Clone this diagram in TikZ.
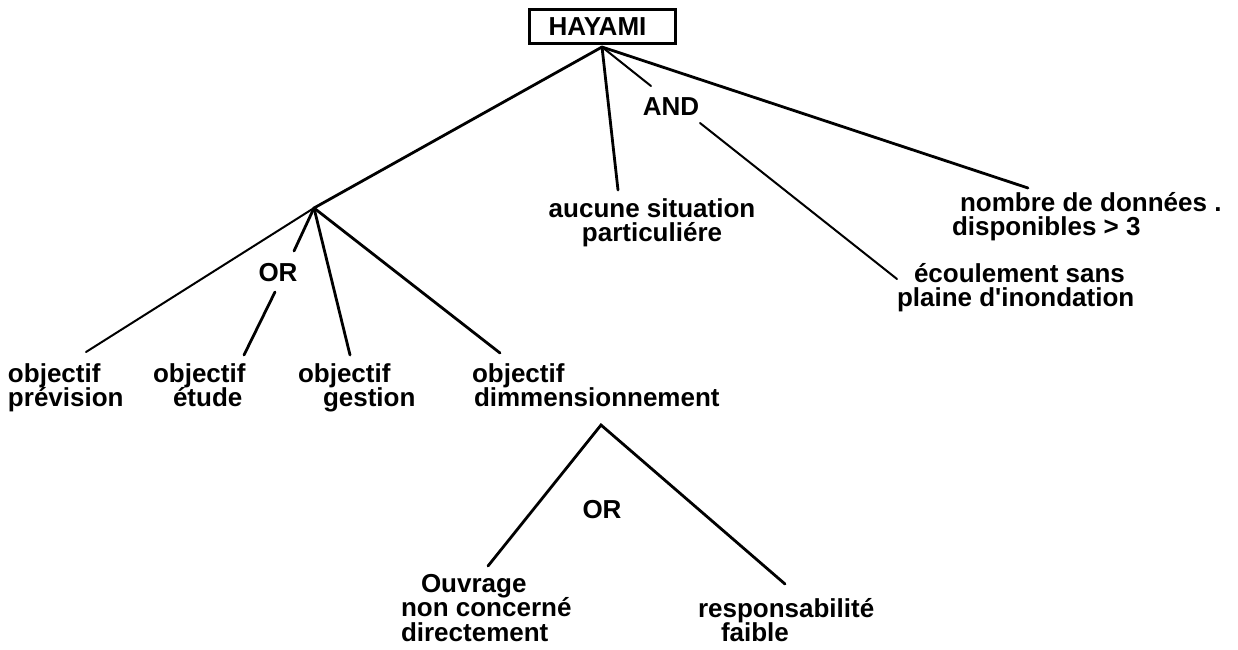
\documentclass[tikz,border=0pt]{standalone}
\usepackage{fontspec}
\newfontfamily\labfam{Liberation Sans}
\newcommand\lblfont{\labfam\bfseries\fontsize{26}{24.5}\selectfont\lineskiplimit=-50pt\relax}
\newcommand\lstrut{\rule{0pt}{22pt}}
\begin{document}
\begin{tikzpicture}[x=1pt,y=-1pt,
  lbl/.style={inner sep=0pt, outer sep=0pt, font=\lblfont, anchor=north west, align=left},
  lblc/.style={lbl, anchor=north, align=center},
  gate/.style={inner sep=0pt, outer sep=0pt, font=\lblfont, anchor=base},
  thickln/.style={line width=2.8pt, line cap=round, line join=miter},
  thinln/.style={line width=2pt, line cap=round}]
\useasboundingbox (0,0) rectangle (1238,649);

% root box
\node[draw, line width=3.5pt, minimum width=146pt, minimum height=34pt, inner sep=0pt,
      font=\labfam\bfseries\fontsize{26}{26}\selectfont] (hay) at (602.5,26.5) {HAYAMI\hspace*{10pt}};

% junction points and connector ends
\coordinate (root) at (602,47);
\coordinate (orA) at (314,208);
\coordinate (andIn) at (651,86);
\coordinate (andOut) at (700,123);
\coordinate (aucTop) at (618,190);
\coordinate (nomTop) at (1028,188);
\coordinate (ecoTop) at (897,279);
\coordinate (orUin) at (294,251);
\coordinate (orUout) at (275,292);
\coordinate (prevTop) at (86,352);
\coordinate (etuTop) at (244,355);
\coordinate (gesTop) at (350,355);
\coordinate (dimTop) at (500,353);
\coordinate (apex) at (601,425);
\coordinate (ouvTop) at (488,566);
\coordinate (resTop) at (785,584);

% gate labels
\node[gate] (and) at (671,115) {AND};
\node[gate] (orU) at (278,281) {OR};
\node[gate] (orL) at (602,518) {OR};

% leaf labels
\node[lbl] (prev) at (8,360) {\lstrut objectif\\prévision};
\node[lbl] (etu) at (153,360) {\lstrut objectif\\\hspace*{20pt}étude};
\node[lbl] (ges) at (298,360) {\lstrut objectif\\\hspace*{25pt}gestion};
\node[lbl] (dim) at (472,360) {\lstrut objectif\\\hspace*{2pt}dimmensionnement};
\node[lblc] (auc) at (652,195) {\lstrut aucune situation\\particuliére};
\node[lbl] (nom) at (952,189) {\lstrut\hspace*{8pt}nombre de données .\\disponibles > 3};
\node[lbl] (eco) at (897,260) {\lstrut\hspace*{17pt}écoulement sans\\plaine d'inondation};
\node[lbl] (ouv) at (401,570) {\lstrut\hspace*{20pt}Ouvrage\\non concerné\\directement};
\node[lbl] (res) at (698,595) {\lstrut responsabilité\\\hspace*{23pt}faible};

% connectors
\draw[thickln] (root) -- (orA);
\draw[thickln] (root) -- (aucTop);
\draw[thinln] (root) -- (andIn);
\draw[thickln] (root) -- (nomTop);
\draw[thinln] (andOut) -- (ecoTop);
\draw[thinln] (orA) -- (prevTop);
\draw[thickln] (orA) -- (orUin);
\draw[thickln] (orUout) -- (etuTop);
\draw[thickln] (orA) -- (gesTop);
\draw[thickln] (orA) -- (dimTop);
\draw[thickln] (ouvTop) -- (apex) -- (resTop);
\end{tikzpicture}
\end{document}
